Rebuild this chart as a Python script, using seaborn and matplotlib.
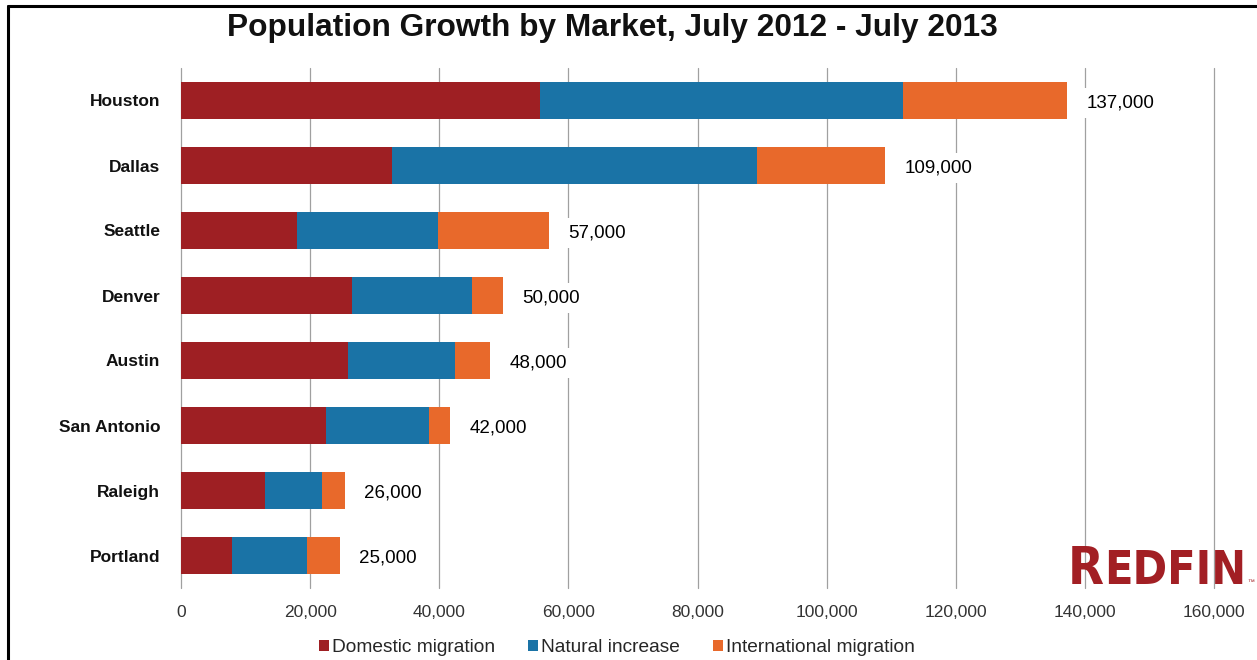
import matplotlib
matplotlib.use("Agg")
import matplotlib.pyplot as plt
import seaborn as sns
import pandas as pd
from matplotlib.patches import Patch
from matplotlib.lines import Line2D
from matplotlib import font_manager
from matplotlib.font_manager import FontProperties

markets = ["Houston", "Dallas", "Seattle", "Denver", "Austin", "San Antonio", "Raleigh", "Portland"]
domestic = [55600, 32700, 18000, 26500, 25900, 22500, 13000, 7900]
natural = [56200, 56500, 21800, 18600, 16500, 15900, 8800, 11600]
international = [25500, 19800, 17200, 4800, 5500, 3300, 3600, 5100]
totals = [137000, 109000, 57000, 50000, 48000, 42000, 26000, 25000]
series_names = ["Domestic migration", "Natural increase", "International migration"]
colors = ["#9e1f23", "#1a73a6", "#e8692b"]
xticks = [0, 20000, 40000, 60000, 80000, 100000, 120000, 140000, 160000]

sns.set_theme(style="white")
plt.rcParams["font.family"] = ["Liberation Sans", "DejaVu Sans"]

df = pd.DataFrame({"market": markets, "dom": domestic, "nat": natural, "intl": international})
df["c1"] = df["dom"]
df["c2"] = df["dom"] + df["nat"]
df["c3"] = df["dom"] + df["nat"] + df["intl"]

fig = plt.figure(figsize=(12.57, 6.6), dpi=100)
ax = fig.add_axes([181 / 1257, (660 - 588) / 660, (1214 - 181) / 1257, (588 - 68) / 660])

for col, c in zip(["c3", "c2", "c1"], colors[::-1]):
    sns.barplot(data=df, x=col, y="market", orient="h", color=c, saturation=1,
                width=0.57, linewidth=0, ax=ax, zorder=3)

ax.set_xlim(0, 160000)
ax.set_ylim(7.5, -0.5)
ax.set_xticks(xticks)
ax.set_xticklabels([f"{v:,}" for v in xticks], fontsize=12.5, color="#333333")
ax.tick_params(axis="x", length=0, pad=12)
ax.tick_params(axis="y", length=0, pad=15)
for lbl in ax.get_yticklabels():
    lbl.set_fontsize(12.5)
    lbl.set_fontweight("bold")
    lbl.set_color("#111111")
ax.set_xlabel("")
ax.set_ylabel("")
for s in ax.spines.values():
    s.set_visible(False)
ax.grid(axis="x", color="#a0a0a0", linewidth=0.9, zorder=0)
ax.grid(axis="y", visible=False)
ax.set_axisbelow(True)
for gl in ax.get_xgridlines():
    gl.set_clip_on(False)

for i, (tot, end) in enumerate(zip(totals, df["c3"])):
    ax.annotate(f"{tot:,}", xy=(end, i), xytext=(14, -2), textcoords="offset points",
                va="center", ha="left", fontsize=13.5, color="#000000", zorder=5,
                bbox=dict(boxstyle="square,pad=0.35", fc="white", ec="none"))

handles = [Patch(facecolor=c, edgecolor="none", label=n) for c, n in zip(colors, series_names)]
fig.legend(handles=handles, loc="center", bbox_to_anchor=(617 / 1257, (660 - 648) / 660),
           ncol=3, frameon=False, fontsize=13.8, handlelength=0.5, handleheight=0.5,
           handletextpad=0.15, columnspacing=1.75)

fig.text(612 / 1257, (660 - 28) / 660, "Population Growth by Market, July 2012 - July 2013",
         ha="center", va="center", fontsize=22.8, fontweight="bold", color="#111111")

# Logo font: prefer an installed condensed/narrow bold face
cands = [f for f in font_manager.fontManager.ttflist
         if any(k in f.fname.lower() for k in ("condensed", "narrow"))]
cands.sort(key=lambda f: (0 if f.weight in ("bold", 700, "700") or "bold" in f.fname.lower() else 1,
                          0 if "italic" not in f.fname.lower() and "oblique" not in f.fname.lower() else 1))
if cands:
    base_fp = dict(fname=cands[0].fname)
else:
    base_fp = dict(family=["Liberation Sans"], weight="bold")

logo_color = "#a21f24"
base_y = (660 - 584) / 660
r_size, e_size = 45.0, 40.0
for _ in range(2):
    r = fig.text(1068 / 1257, base_y, "R", ha="left", va="baseline",
                 fontproperties=FontProperties(size=r_size, **base_fp), color=logo_color)
    fig.canvas.draw()
    bb = r.get_window_extent()
    e = fig.text(bb.x1 / 1257, base_y, "EDFIN", ha="left", va="baseline",
                 fontproperties=FontProperties(size=e_size, **base_fp), color=logo_color)
    fig.canvas.draw()
    eb = e.get_window_extent()
    width = eb.x1 - bb.x0
    if width <= 182:
        break
    r.remove()
    e.remove()
    scale = 178 / width
    r_size *= scale
    e_size *= scale
fig.text(eb.x1 / 1257 + 0.001, base_y, "™", fontsize=5, color=logo_color, va="baseline")

fig.add_artist(Line2D([8 / 1257, 1], [(660 - 6) / 660] * 2, transform=fig.transFigure, color="black", linewidth=2.2))
fig.add_artist(Line2D([8 / 1257] * 2, [0, (660 - 6) / 660], transform=fig.transFigure, color="black", linewidth=2.2))

fig.savefig("out.png", dpi=100)
